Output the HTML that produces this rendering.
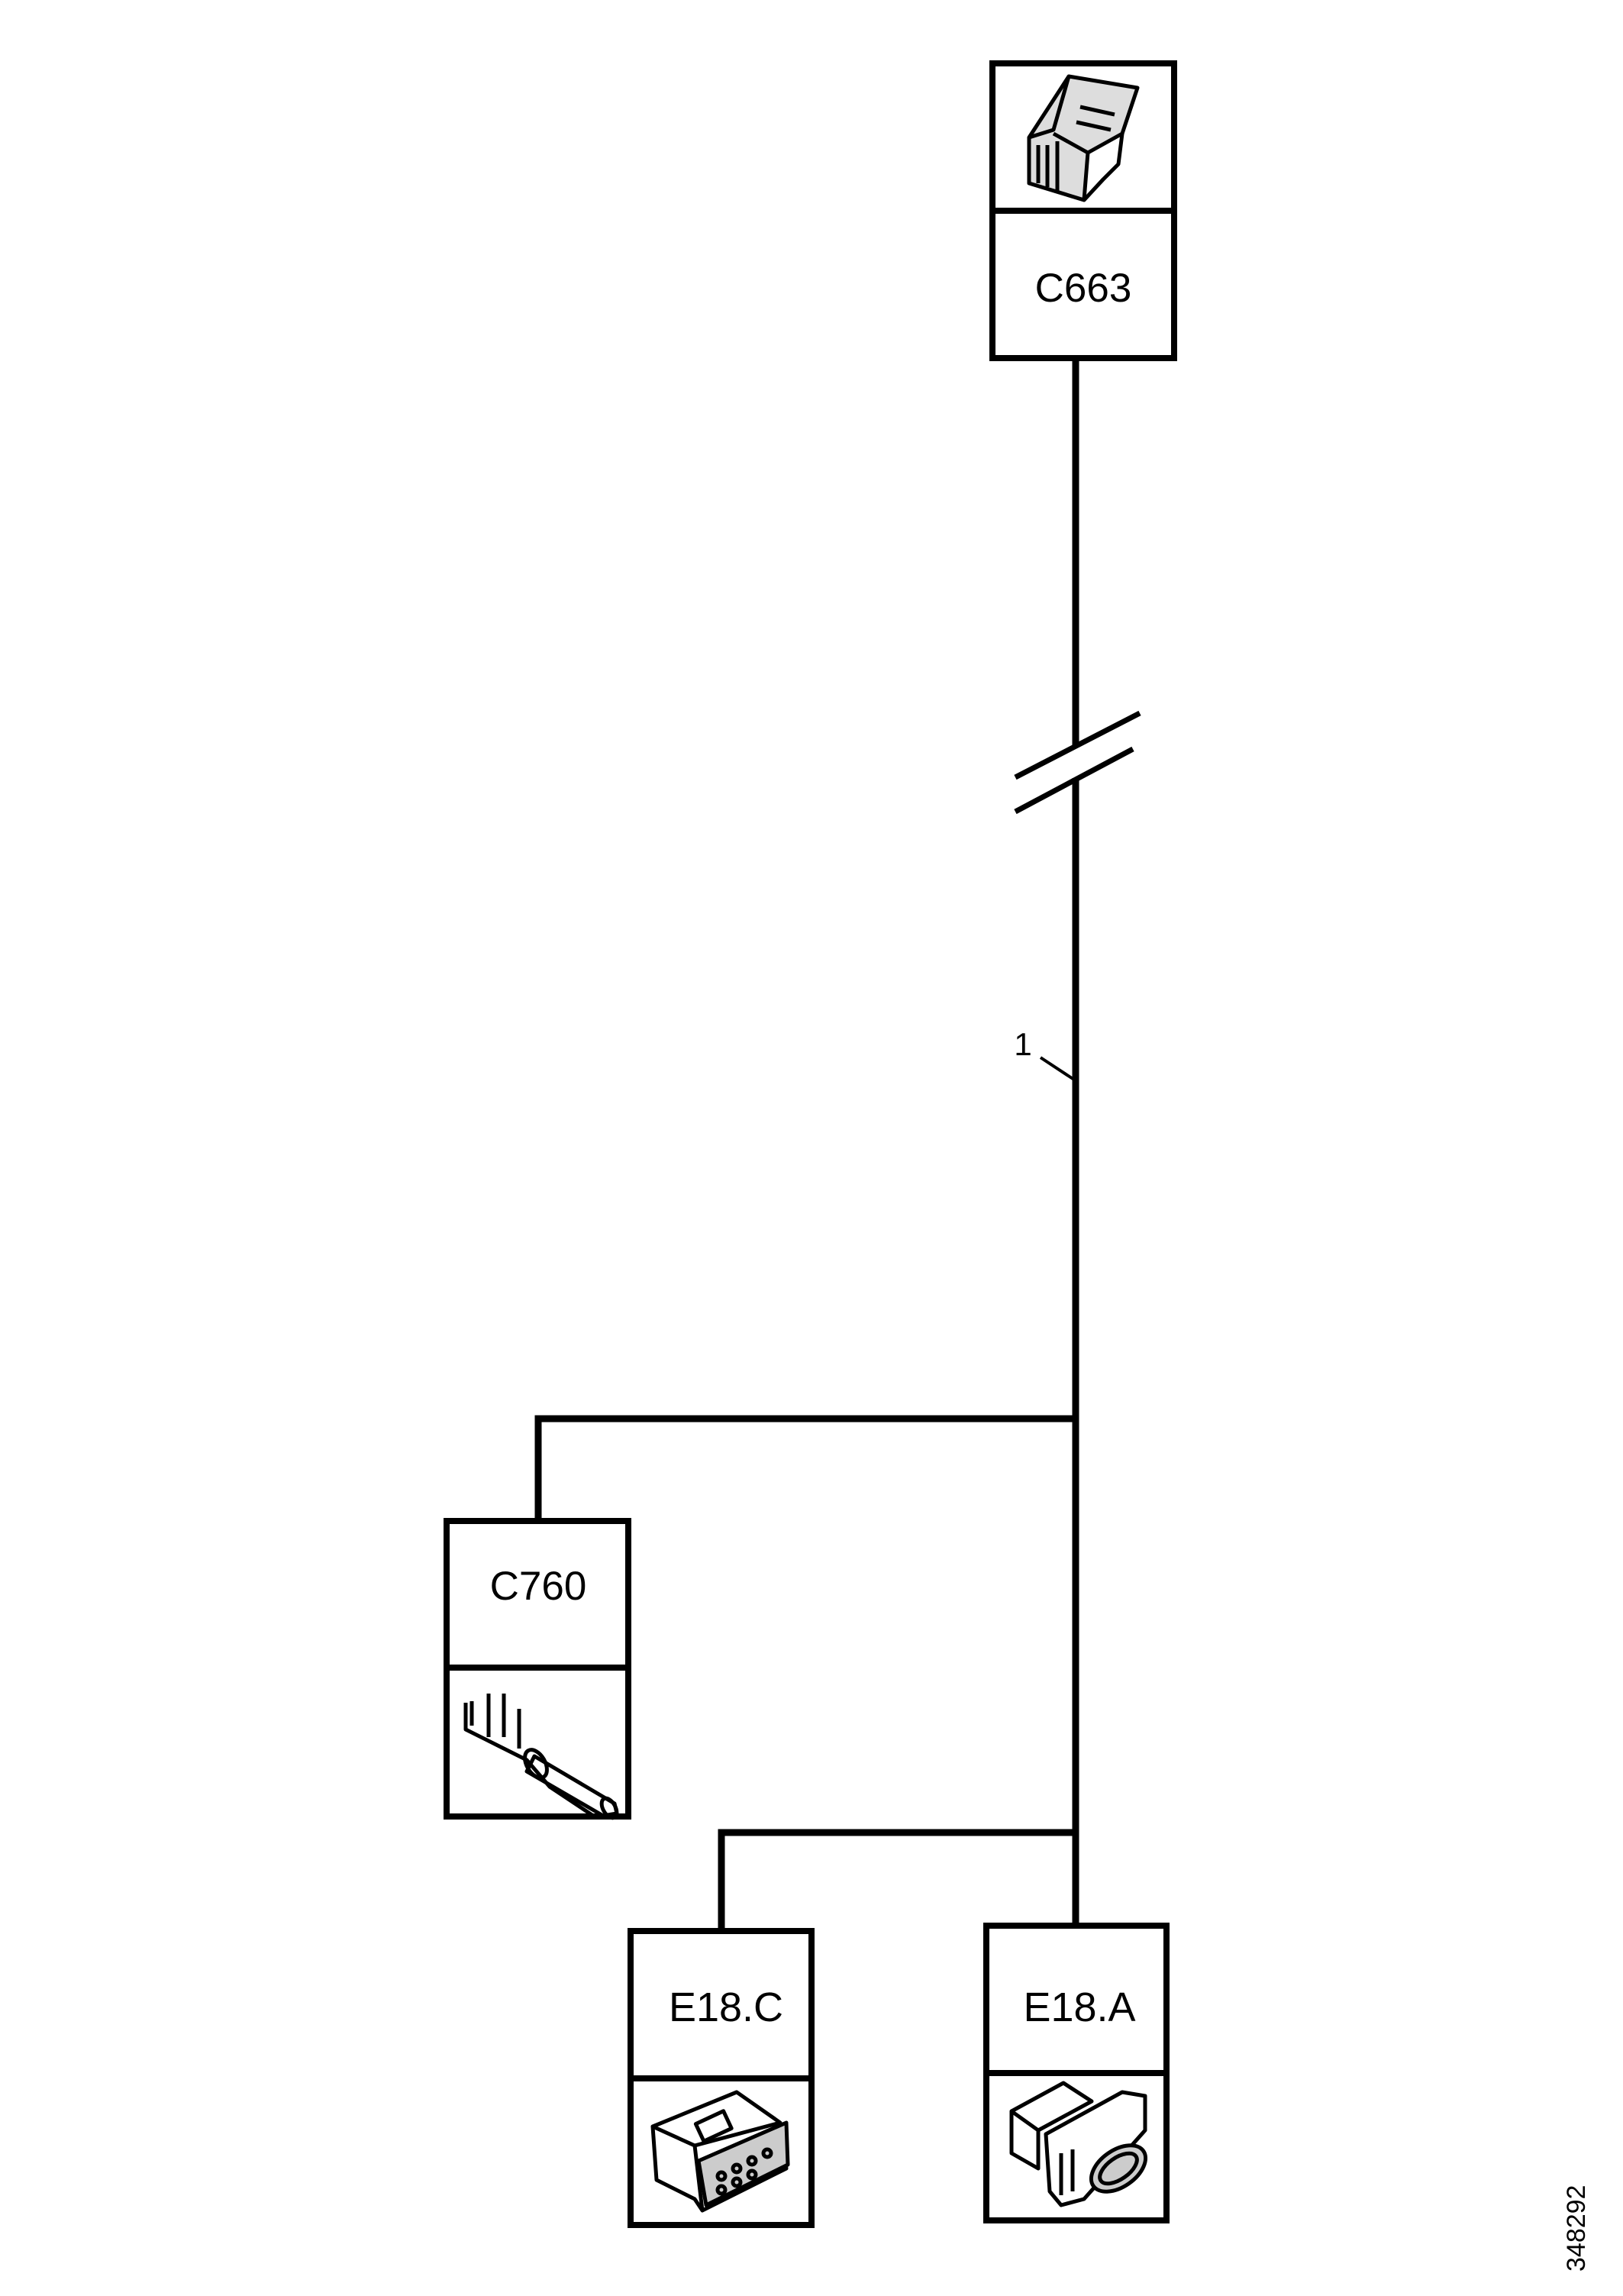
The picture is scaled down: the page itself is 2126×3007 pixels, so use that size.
<!DOCTYPE html>
<html><head><meta charset="utf-8"><style>
html,body{margin:0;padding:0;background:#fff}
svg{display:block}
text{font-family:"Liberation Sans",sans-serif;fill:#000}
</style></head><body>
<svg width="2126" height="3007" viewBox="0 0 2126 3007" xmlns="http://www.w3.org/2000/svg">
<g fill="none" stroke="#000" stroke-width="8">
  <rect x="1300" y="83" width="238" height="386"/>
  <line x1="1300" y1="276" x2="1538" y2="276"/>
  <rect x="585" y="1992" width="238" height="387"/>
  <line x1="585" y1="2184" x2="823" y2="2184"/>
  <rect x="826" y="2529" width="237" height="385"/>
  <line x1="826" y1="2722" x2="1063" y2="2722"/>
  <rect x="1292" y="2522" width="236" height="386"/>
  <line x1="1292" y1="2715" x2="1528" y2="2715"/>
</g>
<g fill="none" stroke="#000" stroke-width="9">
  <line x1="1409" y1="469" x2="1409" y2="976"/>
  <line x1="1409" y1="1019" x2="1409" y2="2522"/>
  <polyline points="705,1992 705,1858 1409,1858"/>
  <polyline points="945,2529 945,2400 1409,2400"/>
</g>
<g stroke="#000" stroke-width="7">
  <line x1="1330" y1="1018" x2="1493" y2="934"/>
  <line x1="1330" y1="1063" x2="1484" y2="981"/>
</g>
<line x1="1363" y1="1385" x2="1407" y2="1414" stroke="#000" stroke-width="4"/>
<text x="1340" y="1382" font-size="42" text-anchor="middle">1</text>

<text x="1419" y="395" font-size="53" text-anchor="middle">C663</text>
<text x="705" y="2095" font-size="53" text-anchor="middle">C760</text>
<text x="951" y="2647" font-size="54" text-anchor="middle">E18.C</text>
<text x="1414" y="2647" font-size="54" text-anchor="middle">E18.A</text>

<text transform="translate(2076,2975) rotate(-90)" font-size="34">348292</text>

<g fill="none" stroke="#000" stroke-width="5" stroke-linejoin="round">
  <path d="M1348,240 L1348,180 L1400,100 L1490,115 L1470,175 L1425,200 L1420,262 Z" fill="#ddd"/>
  <path d="M1400,100 L1380,170 L1348,180"/>
  <path d="M1425,200 L1380,175"/>
  <path d="M1470,175 L1465,215 L1445,235 L1420,262"/>
  <path d="M1360,240 L1360,190 M1372,245 L1372,190 M1385,250 L1385,185"/>
  <path d="M1415,140 L1460,150 M1410,160 L1455,170"/>
</g>
<g fill="none" stroke="#000" stroke-width="5" stroke-linejoin="round">
  <path d="M610,2230 L610,2265 L650,2285 L690,2305 L720,2340 L780,2380"/>
  <path d="M618,2228 L618,2260 M640,2218 L640,2275 M660,2218 L660,2275 M680,2238 L680,2290"/>
  <path d="M700,2300 L805,2362 L808,2375 L790,2378 L690,2320 Z"/>
  <ellipse cx="702" cy="2310" rx="12" ry="20" transform="rotate(-30 702 2310)"/>
  <ellipse cx="798" cy="2368" rx="8" ry="14" transform="rotate(-30 798 2368)"/>
</g>
<g fill="none" stroke="#000" stroke-width="5" stroke-linejoin="round">
  <path d="M855,2785 L965,2740 L1022,2780 L1030,2840 L920,2895 L910,2880 L860,2855 Z"/>
  <path d="M855,2785 L910,2810 L920,2895"/>
  <path d="M910,2810 L1022,2780"/>
  <path d="M915,2830 L1030,2780 L1032,2835 L925,2888 Z" fill="#ccc"/>
  <rect x="915" y="2772" width="40" height="25" transform="rotate(-25 935 2785)"/>
  <circle cx="945" cy="2850" r="5"/><circle cx="965" cy="2840" r="5"/><circle cx="985" cy="2830" r="5"/><circle cx="1005" cy="2820" r="5"/>
  <circle cx="945" cy="2868" r="5"/><circle cx="965" cy="2858" r="5"/><circle cx="985" cy="2848" r="5"/>
</g>
<g fill="none" stroke="#000" stroke-width="5" stroke-linejoin="round">
  <path d="M1325,2765 L1393,2728 L1430,2752 L1360,2790 Z"/>
  <path d="M1325,2765 L1325,2820 L1360,2840 L1360,2790"/>
  <path d="M1370,2795 L1470,2740 L1500,2745 L1500,2790 L1420,2880 L1390,2888 L1375,2870 Z"/>
  <ellipse cx="1465" cy="2840" rx="40" ry="24" transform="rotate(-35 1465 2840)" fill="#ccc"/>
  <ellipse cx="1465" cy="2840" rx="28" ry="14" transform="rotate(-35 1465 2840)"/>
  <path d="M1390,2820 L1390,2875 M1405,2815 L1405,2870"/>
</g>
</svg>
</body></html>
